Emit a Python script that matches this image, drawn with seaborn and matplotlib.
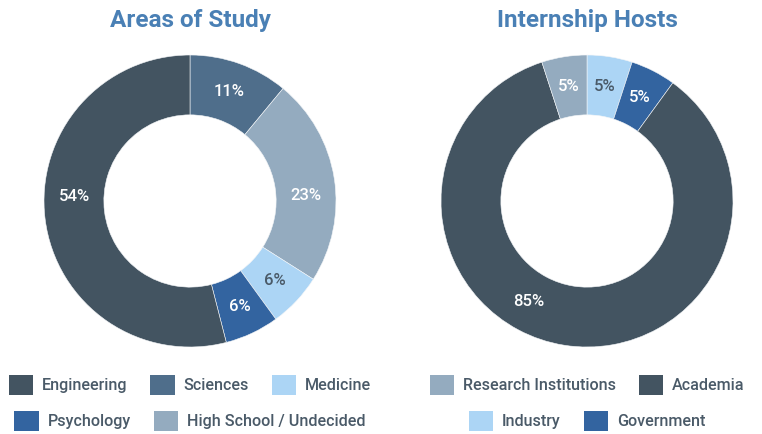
import matplotlib
matplotlib.use("Agg")
import matplotlib.pyplot as plt
from matplotlib.patches import Patch
import numpy as np
import seaborn as sns

# data, clockwise from 12 o'clock
study_labels = ["Sciences", "High School / Undecided", "Medicine", "Psychology", "Engineering"]
study_values = [11, 23, 6, 6, 54]
study_legend = [["Engineering", "Sciences", "Medicine"],
                ["Psychology", "High School / Undecided"]]

host_labels = ["Industry", "Government", "Academia", "Research Institutions"]
host_values = [5, 5, 85, 5]
host_legend = [["Research Institutions", "Academia"],
               ["Industry", "Government"]]

COLORS = {
    "Engineering": "#435461",
    "Academia": "#435461",
    "Sciences": "#4f6e8b",
    "High School / Undecided": "#94abbf",
    "Research Institutions": "#94abbf",
    "Medicine": "#acd5f5",
    "Industry": "#acd5f5",
    "Psychology": "#3364a0",
    "Government": "#3364a0",
}
LIGHT = {"Medicine", "Industry"}
# the big slices have their label a bit off the mid angle (degrees)
LABEL_SHIFT = {"Engineering": -9.5, "High School / Undecided": -6.5, "Academia": -21}
TITLE_C = "#4a80b5"
TEXT_C = "#4a5a68"

sns.set_theme(style="white")
plt.rcParams["font.family"] = ["Roboto", "DejaVu Sans"]

W, H = 762, 434
fig = plt.figure(figsize=(W / 100, H / 100), dpi=100)
fig.patch.set_facecolor("white")

R = 146  # outer radius in px
PCT_R = 0.795


def donut(cx, cy, labels, values, title, legend_rows):
    ax = fig.add_axes([(cx - R) / W, (H - cy - R) / H, 2 * R / W, 2 * R / H])
    pal = sns.color_palette([COLORS[l] for l in labels])
    wedges, _, autotexts = ax.pie(
        values, colors=pal, startangle=90, counterclock=False, radius=1,
        autopct=lambda p: f"{p:.0f}%", pctdistance=PCT_R,
        wedgeprops=dict(width=0.41, edgecolor="#f4f6f8", linewidth=0.4),
        textprops=dict(fontsize=12, fontweight="medium"))
    for lbl, w, t in zip(labels, wedges, autotexts):
        t.set_color(TEXT_C if lbl in LIGHT else "white")
        ang = np.deg2rad((w.theta1 + w.theta2) / 2 + LABEL_SHIFT.get(lbl, 0))
        t.set_position((PCT_R * np.cos(ang), PCT_R * np.sin(ang)))
    ax.set_xlim(-1, 1)
    ax.set_ylim(-1, 1)
    ax.set_aspect("equal")
    ax.axis("off")

    fig.text(cx / W, 1 - 27 / H, title, ha="center", va="baseline",
             fontsize=17.5, fontweight="bold", color=TITLE_C)

    for row, y in zip(legend_rows, [385, 421]):
        handles = [Patch(facecolor=COLORS[l], edgecolor="none", label=l) for l in row]
        leg = fig.legend(handles=handles, loc="center", ncol=len(row),
                         bbox_to_anchor=(cx / W, 1 - y / H), frameon=False,
                         fontsize=11.6, handlelength=1.5, handleheight=1.5,
                         handletextpad=0.55, columnspacing=1.45,
                         borderpad=0, borderaxespad=0)
        for t in leg.get_texts():
            t.set_color(TEXT_C)
            t.set_fontweight("medium")


donut(190, 201, study_labels, study_values, "Areas of Study", study_legend)
donut(587, 201, host_labels, host_values, "Internship Hosts", host_legend)

fig.savefig("out.png", dpi=100, facecolor="white")
